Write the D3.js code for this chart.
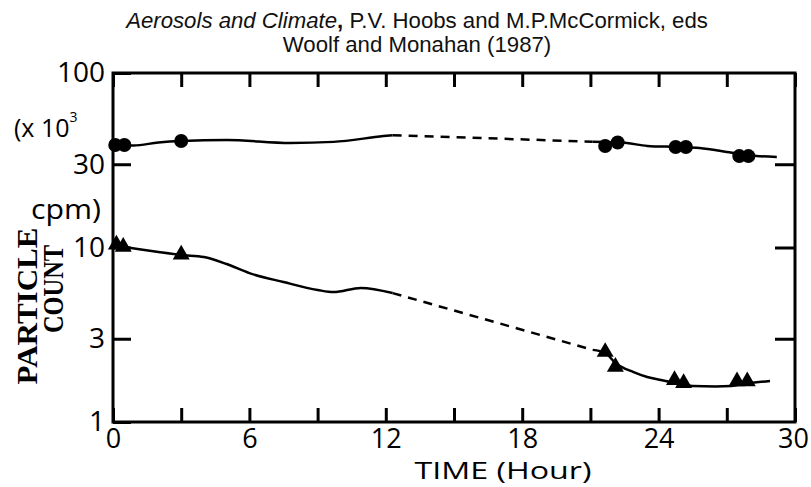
<!DOCTYPE html>
<html>
<head>
<meta charset="utf-8">
<script src="https://cdn.jsdelivr.net/npm/d3@7"></script>
<style>
  html, body { margin: 0; padding: 0; background: #fff; }
  svg { display: block; }
</style>
</head>
<body>
<svg id="chart" width="811" height="487"></svg>
<script>
// ---------------- data ----------------
const xTickValues = [0, 3, 6, 9, 12, 15, 18, 21, 24, 27, 30];
const xTickLabels = ["0", "6", "12", "18", "24", "30"];
const yTickValues = [1, 3, 10, 30, 100];
const yTickLabels = ["1", "3", "10", "30", "100"];

// circles (upper series, x10^3 cpm)
const circleHours  = [0.1, 0.5, 3, 21.65, 22.2, 24.75, 25.2, 27.55, 27.95];
const circleValues = [38.7, 38.7, 40.8, 38.2, 40.0, 37.7, 37.7, 33.4, 33.4];

// triangles (lower series)
const triangleHours  = [0.15, 0.45, 3, 21.65, 22.1, 24.7, 25.1, 27.45, 27.9];
const triangleValues = [10.4, 10.1, 9.1, 2.52, 2.07, 1.74, 1.67, 1.71, 1.71];

// upper curve
const upperSolidAHours  = [0, 0.9, 2, 3, 5, 7.8, 9.7, 11.9, 12.3];
const upperSolidAValues = [38.7, 38.4, 40.0, 40.8, 41.3, 39.7, 40.3, 43.5, 44.0];
const upperDashedHours  = [12.3, 21.1];
const upperDashedValues = [44.0, 40.4];
const upperSolidBHours  = [21.1, 21.65, 22.2, 22.6, 23.5, 24.8, 25.8, 27.0, 27.6, 28.3, 29.2];
const upperSolidBValues = [40.4, 40.2, 40.1, 39.7, 38.2, 37.7, 37.2, 35.3, 34.3, 33.5, 33.0];

// lower curve
const lowerSolidAHours  = [0, 0.5, 2, 3, 4, 5, 6, 7.5, 9, 9.7, 10.9, 12.3];
const lowerSolidAValues = [10.3, 10.06, 9.42, 9.06, 8.82, 8.04, 7.13, 6.34, 5.71, 5.55, 5.86, 5.48];
const lowerDashedHours  = [12.3, 21.1];
const lowerDashedValues = [5.48, 2.59];
const lowerSolidBHours  = [21.1, 21.65, 22.1, 22.9, 23.5, 24.1, 24.7, 25.5, 26.5, 27.2, 27.9, 28.9];
const lowerSolidBValues = [2.59, 2.49, 2.18, 1.93, 1.81, 1.74, 1.68, 1.61, 1.60, 1.61, 1.66, 1.72];

// ---------------- drawing ----------------
const svg = d3.select("#chart");
const L = 113, R = 795, T = 73, B = 422;
const x = d3.scaleLinear().domain([0, 30]).range([L, R]);
const y = d3.scaleLog().domain([1, 100]).range([B, T]);
const zip = (h, v) => h.map((d, i) => [d, v[i]]);

const tickFont = "'Open Sans', 'DejaVu Sans', sans-serif";

// title
const title = svg.append("text")
  .attr("x", 417).attr("y", 28)
  .attr("text-anchor", "middle")
  .attr("font-family", "'Liberation Sans', Arial, sans-serif")
  .attr("font-size", 22.2).attr("fill", "#111");
title.append("tspan").attr("font-style", "italic").text("Aerosols and Climate");
title.append("tspan").attr("font-weight", "bold").text(",");
title.append("tspan").text(" P.V. Hoobs and M.P.McCormick, eds");
svg.append("text")
  .attr("x", 417).attr("y", 52)
  .attr("text-anchor", "middle")
  .attr("font-family", "'Liberation Sans', Arial, sans-serif")
  .attr("font-size", 22.2).attr("fill", "#111")
  .text("Woolf and Monahan (1987)");

// bottom axis (ticks pointing in)
const xAxisB = d3.axisBottom(x)
  .tickValues(xTickValues)
  .tickSizeInner(-14).tickSizeOuter(0).tickPadding(7)
  .tickFormat(d => xTickLabels.includes(String(d)) ? String(d) : "");
const gxb = svg.append("g").attr("transform", `translate(0,${B})`).call(xAxisB);
// top axis ticks
const xAxisT = d3.axisTop(x)
  .tickValues(xTickValues)
  .tickSizeInner(-14).tickSizeOuter(0).tickFormat("");
const gxt = svg.append("g").attr("transform", `translate(0,${T})`).call(xAxisT);
// left axis
const yAxisL = d3.axisLeft(y)
  .tickValues(yTickValues)
  .tickSizeInner(-18).tickSizeOuter(0).tickPadding(8)
  .tickFormat((d, i) => yTickLabels[i]);
const gyl = svg.append("g").attr("transform", `translate(${L},0)`).call(yAxisL);
// right axis ticks
const yAxisR = d3.axisRight(y)
  .tickValues([3, 10, 30])
  .tickSizeInner(-20).tickSizeOuter(0).tickFormat("");
const gyr = svg.append("g").attr("transform", `translate(${R},0)`).call(yAxisR);

[gxb, gxt, gyl, gyr].forEach(g => {
  g.select(".domain").remove();
  g.selectAll(".tick line").attr("stroke", "#000").attr("stroke-width", 3);
  g.selectAll(".tick text")
    .attr("font-family", tickFont).attr("font-size", 28).attr("fill", "#000");
});
gxb.selectAll(".tick text").attr("font-size", 27);
// keep the last x label inside the picture
gxb.selectAll(".tick text").filter(d => d === 30).attr("dx", -2);

// frame
svg.append("rect")
  .attr("x", L).attr("y", T).attr("width", R - L).attr("height", B - T)
  .attr("fill", "none").attr("stroke", "#000").attr("stroke-width", 3);

// extra y-axis unit labels
const unit1 = svg.append("text")
  .attr("x", 14).attr("y", 137)
  .attr("font-family", tickFont).attr("font-size", 25).attr("fill", "#000");
unit1.append("tspan").text("(x 10");
unit1.append("tspan").attr("font-size", 14).attr("dy", -15).text("3");
svg.append("text")
  .attr("x", 31).attr("y", 219)
  .attr("font-family", tickFont).attr("font-size", 28).attr("fill", "#000")
  .attr("textLength", 70).attr("lengthAdjust", "spacingAndGlyphs")
  .text("cpm)");

// axis titles
svg.append("text")
  .attr("transform", "translate(37,306) rotate(-90)")
  .attr("text-anchor", "middle")
  .attr("font-family", "'Liberation Serif', 'DejaVu Serif', serif")
  .attr("font-weight", "bold").attr("font-size", 29).attr("fill", "#000")
  .attr("textLength", 157).attr("lengthAdjust", "spacingAndGlyphs")
  .text("PARTICLE");
svg.append("text")
  .attr("transform", "translate(63,289) rotate(-90)")
  .attr("text-anchor", "middle")
  .attr("font-family", "'Liberation Serif', 'DejaVu Serif', serif")
  .attr("font-weight", "bold").attr("font-size", 29).attr("fill", "#000")
  .attr("textLength", 88).attr("lengthAdjust", "spacingAndGlyphs")
  .text("COUNT");
svg.append("text")
  .attr("x", 503).attr("y", 479)
  .attr("text-anchor", "middle")
  .attr("font-family", tickFont).attr("font-size", 24).attr("fill", "#000")
  .attr("textLength", 177).attr("lengthAdjust", "spacingAndGlyphs")
  .text("TIME (Hour)");

// curves
const line = d3.line().x(d => x(d[0])).y(d => y(d[1])).curve(d3.curveMonotoneX);
const straight = d3.line().x(d => x(d[0])).y(d => y(d[1]));
const curves = [
  { d: zip(upperSolidAHours, upperSolidAValues), dash: null, gen: line },
  { d: zip(upperDashedHours, upperDashedValues), dash: "9,7", gen: straight },
  { d: zip(upperSolidBHours, upperSolidBValues), dash: null, gen: line },
  { d: zip(lowerSolidAHours, lowerSolidAValues), dash: null, gen: line },
  { d: zip(lowerDashedHours, lowerDashedValues), dash: "9,7", gen: straight },
  { d: zip(lowerSolidBHours, lowerSolidBValues), dash: null, gen: line }
];
curves.forEach(c => {
  svg.append("path")
    .attr("d", c.gen(c.d))
    .attr("fill", "none").attr("stroke", "#000")
    .attr("stroke-width", 2.5)
    .attr("stroke-dasharray", c.dash);
});

// markers
svg.append("g").selectAll("circle")
  .data(zip(circleHours, circleValues))
  .join("circle")
  .attr("cx", d => x(d[0])).attr("cy", d => y(d[1]))
  .attr("r", 7).attr("fill", "#000");

const tri = d3.symbol().type(d3.symbolTriangle).size(125);
svg.append("g").selectAll("path")
  .data(zip(triangleHours, triangleValues))
  .join("path")
  .attr("d", tri)
  .attr("transform", d => `translate(${x(d[0])},${y(d[1])})`)
  .attr("fill", "#000");
</script>
</body>
</html>
